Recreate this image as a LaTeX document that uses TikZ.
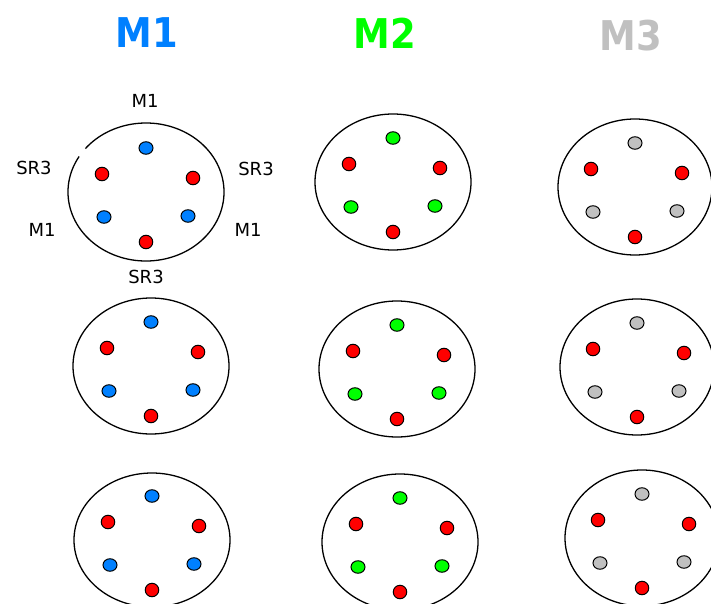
\documentclass[tikz,border=0pt]{standalone}
\usepackage{fontspec}
\setmainfont{DejaVu Sans}
\usepackage{graphicx}
\usetikzlibrary{shapes.geometric}
\definecolor{mblue}{RGB}{0,128,255}
\definecolor{mgreen}{RGB}{0,255,0}
\definecolor{mgray}{RGB}{192,192,192}
\definecolor{mred}{RGB}{255,0,0}
\tikzset{
  pin/.style={ellipse, draw=black, line width=1pt, minimum width=14pt, minimum height=12.5pt, inner sep=0pt},
  redpin/.style={pin, fill=mred, minimum width=13.5pt, minimum height=13.5pt},
  shell/.style={draw=black, line width=1.3pt},
  lbl/.style={font=\fontsize{18}{20}\selectfont, inner sep=0pt},
  ttl/.style={font=\fontsize{41}{44}\selectfont\bfseries, inner sep=0pt}
}
\newcommand\plugface[4]{%
  \begin{scope}[shift={(#2,#3)}]
    \node[pin, fill=#4] (#1t) at (0,-44) {};
    \node[redpin] (#1lr) at (-44,-18) {};
    \node[redpin] (#1rr) at (47,-14) {};
    \node[pin, fill=#4] (#1lb) at (-42,25) {};
    \node[pin, fill=#4] (#1rb) at (42,24) {};
    \node[redpin] (#1br) at (0,50) {};
  \end{scope}}
\begin{document}
\begin{tikzpicture}[x=1pt,y=-1pt]
\useasboundingbox (0,0) rectangle (711,604);
\clip (0,0) rectangle (711,604);
% titles
\node[ttl, text=mblue] (t1) at (147,33) {\scalebox{0.9}[1]{M1}};
\node[ttl, text=mgreen] (t2) at (385,33) {\scalebox{0.9}[1]{M2}};
\node[ttl, text=mgray] (t3) at (631,36) {\scalebox{0.9}[1]{M3}};
% row 1
\draw[shell] (146,192) ++(149:78pt and 69pt) arc[start angle=149, end angle=501, x radius=78pt, y radius=69pt];
\plugface{a}{146}{192}{mblue}
\draw[shell] (393,182) ellipse[x radius=78pt, y radius=68pt];
\plugface{b}{393}{182}{mgreen}
\draw[shell] (635,187) ellipse[x radius=77pt, y radius=68pt];
\plugface{c}{635}{187}{mgray}
% labels
\node[lbl] (l1) at (145,101) {M1};
\node[lbl] (l2) at (34,168) {SR3};
\node[lbl] (l3) at (256,169) {SR3};
\node[lbl] (l4) at (42,230) {M1};
\node[lbl] (l5) at (248,230) {M1};
\node[lbl] (l6) at (146,277) {SR3};
% row 2
\draw[shell] (151,366) ellipse[x radius=78pt, y radius=68pt];
\plugface{d}{151}{366}{mblue}
\draw[shell] (397,369) ellipse[x radius=78pt, y radius=68pt];
\plugface{e}{397}{369}{mgreen}
\draw[shell] (637,367) ellipse[x radius=77pt, y radius=68pt];
\plugface{f}{637}{367}{mgray}
% row 3
\draw[shell] (152,540) ellipse[x radius=78pt, y radius=67pt];
\plugface{g}{152}{540}{mblue}
\draw[shell] (400,542) ellipse[x radius=78pt, y radius=68pt];
\plugface{h}{400}{542}{mgreen}
\draw[shell] (642,538) ellipse[x radius=77pt, y radius=68pt];
\plugface{i}{642}{538}{mgray}
\end{tikzpicture}
\end{document}
